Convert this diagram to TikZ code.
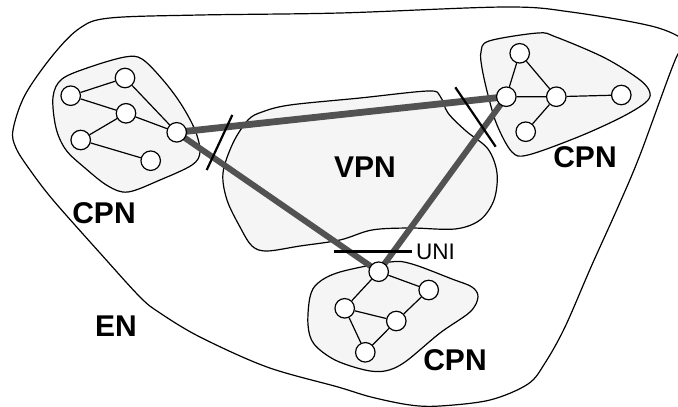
\documentclass[tikz,border=0pt]{standalone}
\usepackage{fontspec}
\setmainfont{Liberation Sans}
\usetikzlibrary{backgrounds}
\definecolor{trunkgray}{RGB}{82,82,82}
\definecolor{cloudfill}{RGB}{245,245,245}
\tikzset{
  host/.style={circle, draw, fill=white, minimum size=19.5pt, inner sep=0pt, line width=1.2pt},
  link/.style={line width=1.2pt},
  trunk/.style={draw=trunkgray, line width=6pt},
  region/.style={draw, fill=cloudfill, line width=1.2pt},
  border/.style={draw, line width=1.2pt},
  cut/.style={line width=2.2pt},
  biglabel/.style={font=\fontsize{30}{36}\selectfont\bfseries, inner sep=0pt},
  smalllabel/.style={font=\fontsize{22.5}{27}\selectfont, inner sep=0pt},
}
\begin{document}
\begin{tikzpicture}[x=1pt, y=-1pt]
\useasboundingbox (0,0) rectangle (678,407);
\clip (0,0) rectangle (678,407);

% left customer network
\node[host] (n1) at (70.7,95.7) {};
\node[host] (n2) at (125,78) {};
\node[host] (n3) at (126,113.3) {};
\node[host] (n4) at (80.7,140) {};
\node[host] (n5) at (176.7,132.3) {};
\node[host] (n6) at (150.7,160.7) {};
% right customer network
\node[host] (r1) at (519.7,53.3) {};
\node[host] (r2) at (506.3,96.7) {};
\node[host] (r3) at (556.3,96.7) {};
\node[host] (r4) at (621.3,95) {};
\node[host] (r5) at (525.7,131.7) {};
% bottom customer network
\node[host] (b1) at (378.7,271.7) {};
\node[host] (b2) at (428.7,290) {};
\node[host] (b3) at (344.7,308.3) {};
\node[host] (b4) at (396.3,321) {};
\node[host] (b5) at (365.3,352.3) {};

% labels
\node[biglabel] (vpn) at (365,167) {VPN};
\node[biglabel] (cpnl) at (104,213) {CPN};
\node[biglabel] (cpnr) at (585,157) {CPN};
\node[biglabel] (cpnb) at (455,360) {CPN};
\node[biglabel] (en) at (116,326) {EN};
\node[smalllabel, anchor=west] (uni) at (416,252) {UNI};

% cut marks at the interfaces
\coordinate (tla) at (232.3,115);
\coordinate (tlb) at (206.7,170);
\coordinate (tra) at (455.3,87.3);
\coordinate (trb) at (495.7,146.7);
\coordinate (ubl) at (334,251.5);
\coordinate (ubr) at (412,251.5);

\begin{scope}[on background layer]
  % enterprise network boundary
  \draw[border] plot[smooth cycle, tension=0.55] coordinates {
    (13,130) (25,95) (53,55) (80,28) (110,18) (200,15) (340,13) (505,7)
    (571,12) (655,27) (688,44) (676,58) (640,155) (618,207)
    (591,267) (565,327) (545,363) (528,384) (490,400) (440,406) (410,405)
    (371,397) (338,387) (267,367) (200,337) (160,313) (140,297) (100,253)
    (53,200) (30,170) (16,148)};
  % customer premises networks
  \draw[region] plot[smooth cycle, tension=0.55] coordinates {
    (53,97) (62,79) (90,67) (125,57) (142,59) (163,80) (181,104) (195,130)
    (200,152) (192,165) (160,180) (128,192) (108,186) (85,168) (66,150)
    (56,128)};
  \draw[region] plot[smooth cycle, tension=0.55] coordinates {
    (481,52) (489,41) (538,33) (556,37) (605,58) (640,80) (650,93) (645,103)
    (620,118) (578,137) (528,155) (512,152) (497,125) (488,95) (482,68)};
  \draw[region] plot[smooth cycle, tension=0.55] coordinates {
    (310,297) (318,283) (340,272) (390,262) (412,264) (452,279) (472,287)
    (478,297) (470,312) (440,333) (405,362) (385,371) (365,370) (335,360)
    (314,344) (308,325)};
  % provider network cloud
  \draw[region] plot[smooth cycle, tension=0.55] coordinates {
    (262,112) (290,105) (360,98) (428,91) (440,96) (448,113) (466,131)
    (488,149) (497,173) (494,200) (480,220) (455,229) (410,228) (372,230)
    (340,240) (300,246) (267,251) (252,246) (240,227) (227,200) (223,173)
    (233,143) (248,120)};

  % virtual private links
  \draw[trunk, line width=6.8pt] (n5.center) -- (r2.center);
  \draw[trunk] (n5.center) -- (b1.center);
  \draw[trunk] (r2.center) -- (b1.center);

  % interface marks
  \draw[cut] (tla) -- (tlb);
  \draw[cut] (tra) -- (trb);
  \draw[cut] (ubl) -- (ubr);

  % customer links
  \draw[link] (n1) -- (n2) (n1) -- (n3) (n2) -- (n5) (n3) -- (n5)
              (n3) -- (n4) (n4) -- (n6);
  \draw[link] (r1) -- (r2) (r1) -- (r3) (r2) -- (r3) (r3) -- (r4)
              (r3) -- (r5);
  \draw[link] (b1) -- (b2) (b1) -- (b3) (b3) -- (b4) (b2) -- (b4)
              (b3) -- (b5) (b4) -- (b5);
\end{scope}
\end{tikzpicture}
\end{document}
